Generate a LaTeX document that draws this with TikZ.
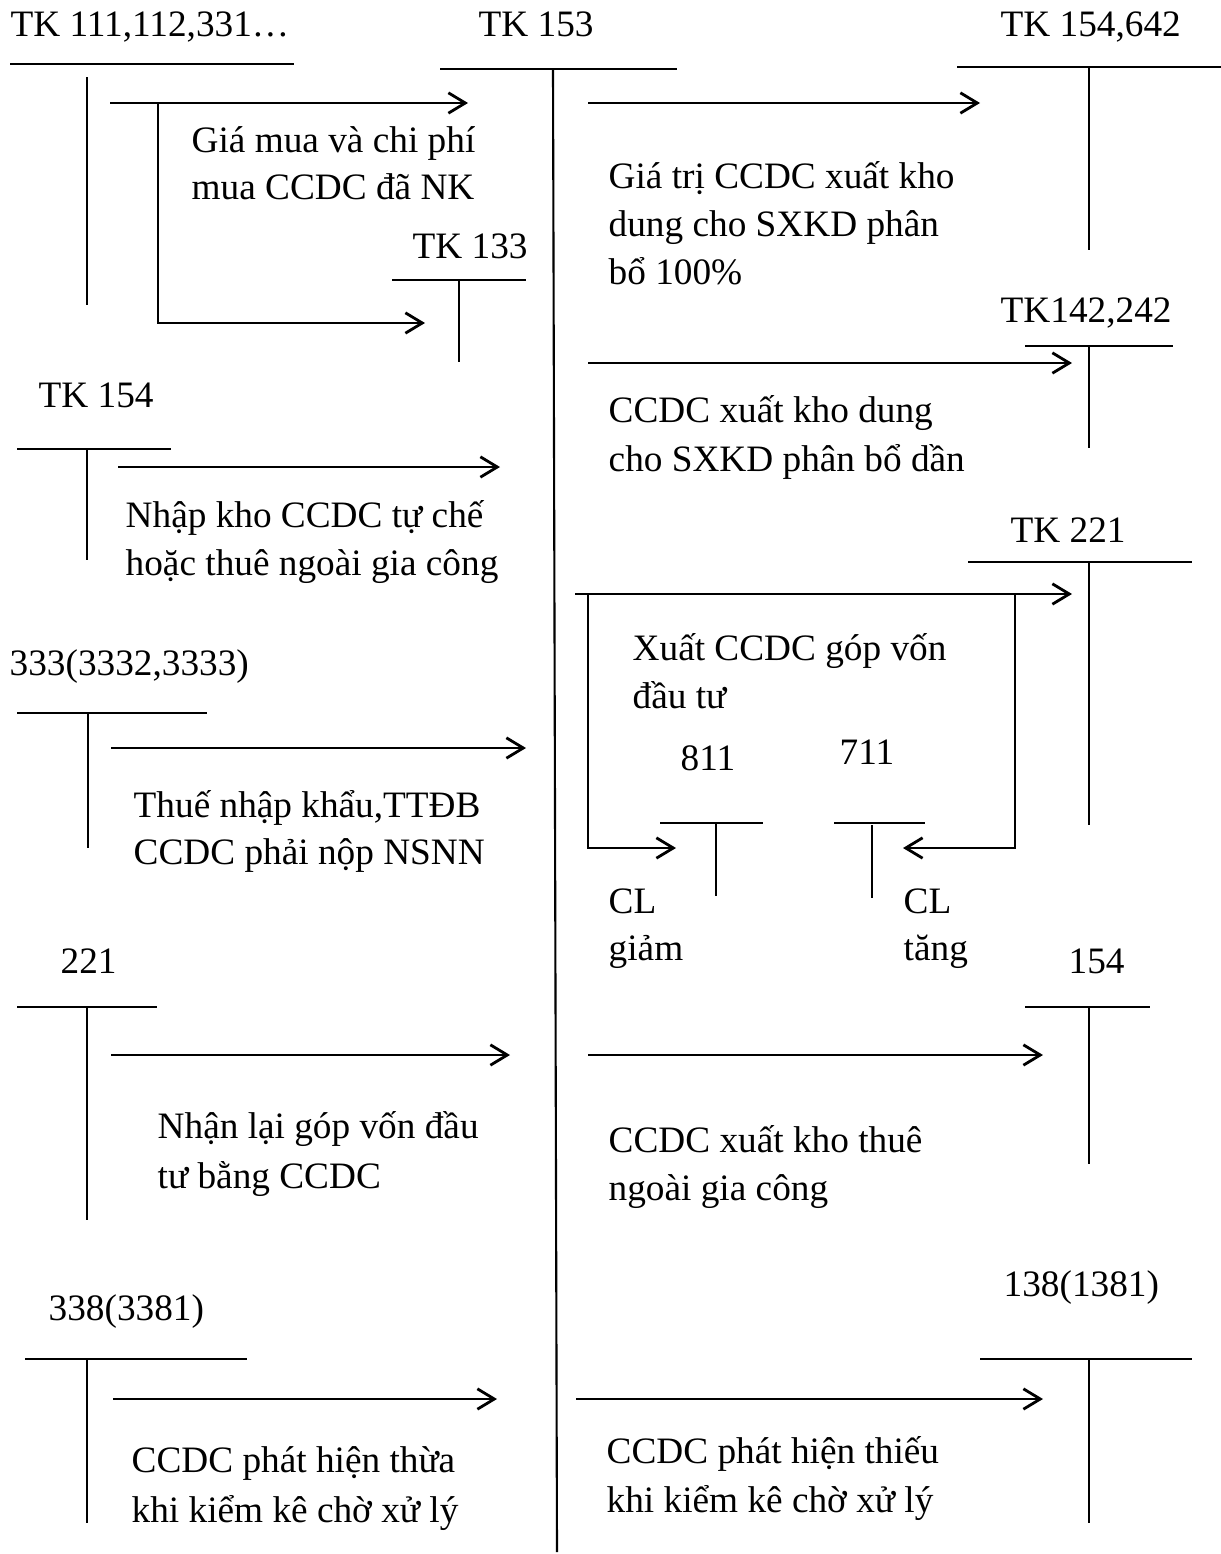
\documentclass[tikz,border=0pt]{standalone}
\usepackage{fontspec}
\setmainfont{Liberation Serif}
\usetikzlibrary{arrows.meta}
\begin{document}
\begin{tikzpicture}[x=0.01cm,y=-0.01cm,
  lbl/.style={anchor=base west,inner sep=0pt,font=\fontsize{10.6pt}{13pt}\selectfont},
  tline/.style={line width=0.6pt},
  flow/.style={line width=0.8pt,-{Straight Barb[length=4.8pt,width=5.8pt]}},
  plain/.style={line width=0.8pt}]
\fill[white] (0,0) rectangle (1221,1554);
\useasboundingbox (0,0) rectangle (1221,1554);

% ---------- T accounts ----------
% TK 111,112,331
\node[lbl] (tA) at (10,36) {TK 111,112,331…};
\draw[tline] (10,64) -- (294,64);
\draw[tline] (87,77) -- (87,305);
% TK 153 (central)
\node[lbl] (tB) at (478,36) {TK 153};
\draw[tline] (440,69) -- (677,69);
\draw[tline] (553,69) -- (557,1552);
% TK 154,642
\node[lbl] (tC) at (1000,36) {TK 154,642};
\draw[tline] (957,67) -- (1221,67);
\draw[tline] (1089,67) -- (1089,250);
% TK 133
\node[lbl] (tD) at (412,258) {TK 133};
\draw[tline] (392,280) -- (526,280);
\draw[tline] (459,280) -- (459,362);
% TK142,242
\node[lbl] (tE) at (1000,322) {TK142,242};
\draw[tline] (1025,346) -- (1173,346);
\draw[tline] (1089,346) -- (1089,448);
% TK 154 (left)
\node[lbl] (tF) at (38,407) {TK 154};
\draw[tline] (17,449) -- (171,449);
\draw[tline] (87,449) -- (87,560);
% TK 221 (right)
\node[lbl] (tG) at (1010,542) {TK 221};
\draw[tline] (968,562) -- (1192,562);
\draw[tline] (1089,562) -- (1089,825);
% 333
\node[lbl] (tH) at (9,675) {333(3332,3333)};
\draw[tline] (17,713) -- (207,713);
\draw[tline] (88,713) -- (88,848);
% 811
\node[lbl] (tI) at (680,770) {811};
\draw[tline] (660,823) -- (763,823);
\draw[tline] (716,823) -- (716,896);
% 711
\node[lbl] (tJ) at (839,764) {711};
\draw[tline] (834,823) -- (925,823);
\draw[tline] (872,825) -- (872,898);
% 221 (left)
\node[lbl] (tK) at (60,973) {221};
\draw[tline] (17,1007) -- (157,1007);
\draw[tline] (87,1007) -- (87,1220);
% 154 (right)
\node[lbl] (tL) at (1068,973) {154};
\draw[tline] (1025,1007) -- (1150,1007);
\draw[tline] (1089,1007) -- (1089,1164);
% 338
\node[lbl] (tM) at (48,1320) {338(3381)};
\draw[tline] (25,1359) -- (247,1359);
\draw[tline] (87,1359) -- (87,1523);
% 138
\node[lbl] (tN) at (1003,1296) {138(1381)};
\draw[tline] (980,1359) -- (1192,1359);
\draw[tline] (1089,1359) -- (1089,1523);

% ---------- arrow end points ----------
\coordinate (a1s) at (110,103);  \coordinate (a1e) at (468,103);
\coordinate (a1b) at (158,103);  \coordinate (a1c) at (158,323); \coordinate (a1d) at (425,323);
\coordinate (a2s) at (588,103);  \coordinate (a2e) at (980,103);
\coordinate (a3s) at (588,363);  \coordinate (a3e) at (1072,363);
\coordinate (a4s) at (118,467);  \coordinate (a4e) at (500,467);
\coordinate (a5s) at (575,594);  \coordinate (a5e) at (1072,594);
\coordinate (a5l) at (588,594);  \coordinate (a5lc) at (588,848); \coordinate (a5le) at (676,848);
\coordinate (a5r) at (1015,594); \coordinate (a5rc) at (1015,848); \coordinate (a5re) at (903,848);
\coordinate (a6s) at (111,748);  \coordinate (a6e) at (526,748);
\coordinate (a7s) at (111,1055); \coordinate (a7e) at (510,1055);
\coordinate (a8s) at (588,1055); \coordinate (a8e) at (1043,1055);
\coordinate (a9s) at (113,1399); \coordinate (a9e) at (497,1399);
\coordinate (a10s) at (576,1399); \coordinate (a10e) at (1043,1399);

% ---------- arrows ----------
\draw[flow] (a1s) -- (a1e);
\draw[flow] (a1b) -- (a1c) -- (a1d);
\draw[flow] (a2s) -- (a2e);
\draw[flow] (a3s) -- (a3e);
\draw[flow] (a4s) -- (a4e);
\draw[flow] (a5s) -- (a5e);
\draw[flow] (a5l) -- (a5lc) -- (a5le);
\draw[flow] (a5r) -- (a5rc) -- (a5re);
\draw[flow] (a6s) -- (a6e);
\draw[flow] (a7s) -- (a7e);
\draw[flow] (a8s) -- (a8e);
\draw[flow] (a9s) -- (a9e);
\draw[flow] (a10s) -- (a10e);

% ---------- descriptions ----------
\node[lbl] (d1a) at (191,152) {Giá mua và chi phí};
\node[lbl] (d1b) at (191,199) {mua CCDC đã NK};
\node[lbl] (d2a) at (608,188) {Giá trị CCDC xuất kho};
\node[lbl] (d2b) at (608,236) {dung cho SXKD phân};
\node[lbl] (d2c) at (608,284) {bổ 100\%};
\node[lbl] (d3a) at (608,422) {CCDC xuất kho dung};
\node[lbl] (d3b) at (608,471) {cho SXKD phân bổ dần};
\node[lbl] (d4a) at (125,527) {Nhập kho CCDC tự chế};
\node[lbl] (d4b) at (125,575) {hoặc thuê ngoài gia công};
\node[lbl] (d5a) at (632,660) {Xuất CCDC góp vốn};
\node[lbl] (d5b) at (632,708) {đầu tư};
\node[lbl] (d6a) at (133,817) {Thuế nhập khẩu,TTĐB};
\node[lbl] (d6b) at (133,864) {CCDC phải nộp NSNN};
\node[lbl] (d7a) at (608,913) {CL};
\node[lbl] (d7b) at (608,960) {giảm};
\node[lbl] (d8a) at (903,913) {CL};
\node[lbl] (d8b) at (903,960) {tăng};
\node[lbl] (d9a) at (157,1138) {Nhận lại góp vốn đầu};
\node[lbl] (d9b) at (157,1188) {tư bằng CCDC};
\node[lbl] (d10a) at (608,1152) {CCDC xuất kho thuê};
\node[lbl] (d10b) at (608,1200) {ngoài gia công};
\node[lbl] (d11a) at (131,1472) {CCDC phát hiện thừa};
\node[lbl] (d11b) at (131,1522) {khi kiểm kê chờ xử lý};
\node[lbl] (d12a) at (606,1463) {CCDC phát hiện thiếu};
\node[lbl] (d12b) at (606,1512) {khi kiểm kê chờ xử lý};
\end{tikzpicture}
\end{document}
